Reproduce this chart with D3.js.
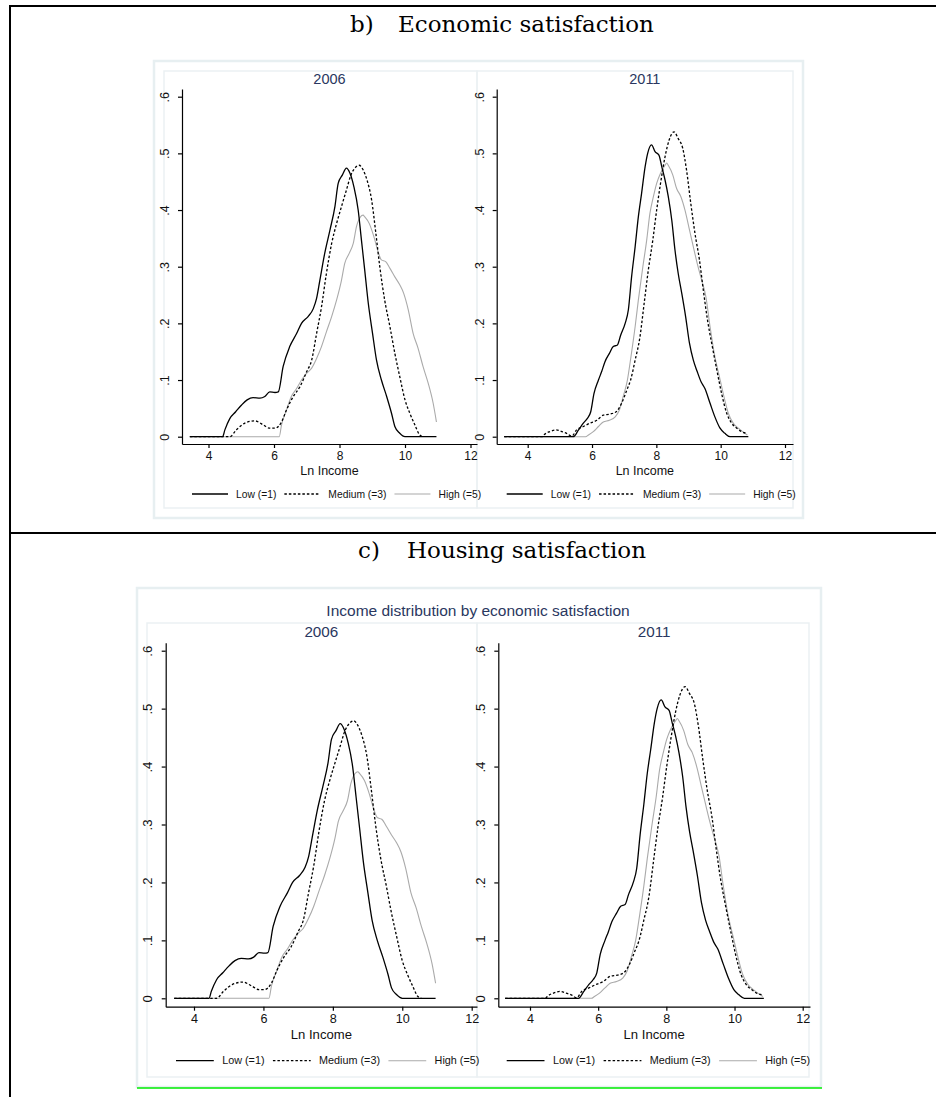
<!DOCTYPE html>
<html>
<head>
<meta charset="utf-8">
<script src="https://cdn.jsdelivr.net/npm/d3@7"></script>
<style>
  body { margin: 0; background: #fff; }
  svg { display: block; }
  text { font-family: "Liberation Sans", Arial, sans-serif; }
</style>
</head>
<body>
<div id="chart"></div>
<script>
// Kernel density of Ln Income by economic satisfaction
// each point is [ln income, density]
const low2006 = [[3.43,0],[4.43,0],[4.5,0.012],[4.65,0.032],[4.83,0.044],[5.01,0.056],[5.18,0.065],[5.36,0.069],
  [5.57,0.068],[5.72,0.071],[5.87,0.079],[6.03,0.078],[6.13,0.079],[6.28,0.124],[6.48,0.159],[6.69,0.182],
  [6.84,0.2],[7.04,0.212],[7.2,0.226],[7.3,0.244],[7.4,0.276],[7.55,0.324],[7.71,0.365],[7.86,0.406],
  [7.96,0.447],[8.09,0.462],[8.21,0.474],[8.32,0.465],[8.44,0.441],[8.57,0.4],[8.67,0.347],[8.77,0.294],
  [8.88,0.235],[9.01,0.182],[9.13,0.135],[9.28,0.1],[9.44,0.071],[9.59,0.041],[9.69,0.018],[9.84,0.006],
  [10.0,0],[10.96,0]];
const medium2006 = [[3.43,0],[4.65,0],[4.85,0.012],[5.11,0.024],[5.41,0.028],[5.67,0.021],[5.87,0.015],
  [6.03,0.015],[6.23,0.026],[6.38,0.047],[6.59,0.071],[6.79,0.088],[7.0,0.115],[7.15,0.135],[7.3,0.182],
  [7.45,0.229],[7.6,0.288],[7.76,0.341],[7.91,0.376],[8.06,0.406],[8.21,0.435],[8.35,0.462],[8.47,0.474],
  [8.6,0.479],[8.72,0.471],[8.84,0.453],[8.98,0.418],[9.11,0.359],[9.23,0.3],[9.38,0.241],[9.54,0.194],
  [9.69,0.147],[9.84,0.106],[10.0,0.065],[10.15,0.041],[10.3,0.021],[10.45,0.003],[10.55,0]];
const high2006 = [[3.43,0],[6.16,0],[6.23,0.021],[6.38,0.047],[6.53,0.071],[6.69,0.085],[6.84,0.1],[7.0,0.112],
  [7.15,0.121],[7.3,0.138],[7.45,0.159],[7.6,0.185],[7.76,0.212],[7.91,0.241],[8.06,0.276],[8.16,0.306],
  [8.3,0.324],[8.42,0.341],[8.52,0.371],[8.64,0.388],[8.72,0.391],[8.77,0.388],[8.91,0.376],[9.05,0.353],
  [9.18,0.326],[9.28,0.312],[9.41,0.309],[9.54,0.297],[9.69,0.282],[9.84,0.268],[9.96,0.253],[10.1,0.224],
  [10.25,0.182],[10.4,0.156],[10.55,0.124],[10.71,0.094],[10.86,0.059],[10.96,0.026]];

const low2011 = [[3.27,0],[5.42,0],[5.58,0.012],[5.73,0.024],[5.85,0.032],[5.96,0.044],[6.06,0.076],[6.2,0.1],
  [6.3,0.115],[6.4,0.132],[6.54,0.147],[6.66,0.159],[6.79,0.162],[6.89,0.179],[7.03,0.2],[7.13,0.224],
  [7.23,0.282],[7.34,0.335],[7.44,0.388],[7.54,0.429],[7.65,0.476],[7.73,0.5],[7.85,0.515],[7.96,0.503],
  [8.08,0.497],[8.17,0.476],[8.27,0.453],[8.37,0.424],[8.48,0.382],[8.58,0.329],[8.68,0.288],[8.79,0.253],
  [8.91,0.212],[9.03,0.165],[9.15,0.135],[9.27,0.115],[9.39,0.097],[9.51,0.085],[9.67,0.059],[9.82,0.035],
  [9.98,0.015],[10.13,0.006],[10.29,0],[10.86,0]];
const medium2011 = [[3.27,0],[4.45,0],[4.52,0.004],[4.69,0.009],[4.88,0.012],[5.06,0.009],[5.21,0.006],
  [5.37,0.001],[5.52,0.012],[5.73,0.018],[5.94,0.024],[6.15,0.029],[6.35,0.038],[6.56,0.04],[6.75,0.044],
  [6.92,0.059],[7.08,0.082],[7.2,0.1],[7.34,0.135],[7.49,0.176],[7.62,0.235],[7.75,0.294],[7.89,0.347],
  [8.01,0.4],[8.13,0.447],[8.27,0.494],[8.4,0.524],[8.55,0.538],[8.68,0.526],[8.82,0.509],[8.94,0.47],
  [9.07,0.412],[9.2,0.359],[9.34,0.312],[9.46,0.259],[9.59,0.206],[9.72,0.165],[9.88,0.118],[10.03,0.076],
  [10.19,0.041],[10.34,0.024],[10.5,0.015],[10.65,0.009],[10.81,0.006]];
const high2011 = [[3.27,0],[5.8,0],[5.89,0.003],[6.04,0.009],[6.2,0.018],[6.35,0.026],[6.54,0.029],[6.72,0.035],
  [6.85,0.047],[6.97,0.071],[7.1,0.1],[7.21,0.141],[7.34,0.194],[7.44,0.241],[7.58,0.3],[7.7,0.347],
  [7.8,0.394],[7.91,0.424],[8.01,0.447],[8.13,0.465],[8.27,0.479],[8.32,0.483],[8.37,0.479],[8.51,0.462],
  [8.63,0.438],[8.76,0.424],[8.89,0.4],[9.03,0.365],[9.15,0.335],[9.27,0.306],[9.41,0.276],[9.54,0.247],
  [9.67,0.194],[9.8,0.147],[9.96,0.106],[10.1,0.071],[10.24,0.041],[10.39,0.024],[10.55,0.015],
  [10.68,0.009],[10.83,0.003]];

const years = ["2006", "2011"];
const seriesNames = ["Low (=1)", "Medium (=3)", "High (=5)"];
const xTicks = [4, 6, 8, 10, 12];
const yTicks = [0, 0.1, 0.2, 0.3, 0.4, 0.5, 0.6];
const byYear = {"2006": [low2006, medium2006, high2006], "2011": [low2011, medium2011, high2011]};

// line styles for Low / Medium / High
const styles = [
  {stroke: "#000", width: 1.3, dash: null},
  {stroke: "#000", width: 1.3, dash: "2.5,2"},
  {stroke: "#aaaaaa", width: 1.1, dash: null}
];

const W = 936, H = 1097;
const svg = d3.select("#chart").append("svg")
  .attr("width", W).attr("height", H);

// document table lines
svg.append("rect").attr("x", 9).attr("y", 5).attr("width", W).attr("height", 2).attr("fill", "#000");
svg.append("rect").attr("x", 9).attr("y", 5).attr("width", 2).attr("height", H).attr("fill", "#000");
svg.append("rect").attr("x", 9).attr("y", 532).attr("width", W).attr("height", 2).attr("fill", "#000");

function heading(label, name, x1, x2, y) {
  svg.append("text").attr("x", x1).attr("y", y)
    .style("font-family", "'DejaVu Serif', 'Liberation Serif', serif")
    .style("font-size", "23px").attr("fill", "#000").text(label);
  svg.append("text").attr("x", x2).attr("y", y)
    .style("font-family", "'DejaVu Serif', 'Liberation Serif', serif")
    .style("font-size", "23px").attr("fill", "#000").text(name);
}
heading("b)", "Economic satisfaction", 350, 398, 32);
heading("c)", "Housing satisfaction", 358, 407, 558);

// light stata frames
function frame(x, y, w, h, c, sw) {
  svg.append("rect").attr("x", x).attr("y", y).attr("width", w).attr("height", h)
    .attr("fill", "none").attr("stroke", c).attr("stroke-width", sw);
}
frame(154, 61, 649, 457, "#e7eff1", 2.5);
frame(164, 71, 313, 437, "#ebf1f3", 1.5);
frame(477, 71, 316, 437, "#ebf1f3", 1.5);
frame(137, 588, 684, 499, "#e7eff1", 2.5);
frame(147, 623, 330, 454, "#ebf1f3", 1.5);
frame(477, 623, 332, 454, "#ebf1f3", 1.5);

svg.append("text").attr("x", 478).attr("y", 616).attr("text-anchor", "middle")
  .style("font-size", "15.5px").attr("fill", "#2a3760")
  .text("Income distribution by economic satisfaction");

svg.append("line").attr("x1", 137).attr("x2", 822).attr("y1", 1088).attr("y2", 1088)
  .attr("stroke", "#00ee00").attr("stroke-width", 1.3);

function drawPanel(p, year) {
  const g = svg.append("g");
  const fs = p.fs;
  // base scales from tick positions, then stretched to the axis lines
  const bx = d3.scaleLinear().domain([4, 12]).range([p.px4, p.px12]);
  const by = d3.scaleLinear().domain([0, 0.6]).range([p.py0, p.py6]);
  const x = d3.scaleLinear().domain([bx.invert(p.axisX), bx.invert(p.axisRight)]).range([p.axisX, p.axisRight]);
  const y = d3.scaleLinear().domain([by.invert(p.axisY), by.invert(p.axisTop)]).range([p.axisY, p.axisTop]);

  const xa = g.append("g").attr("transform", `translate(0,${p.axisY})`)
    .call(d3.axisBottom(x).tickValues(xTicks).tickSize(4).tickSizeOuter(0).tickPadding(3));
  xa.selectAll("text").style("font-size", (12 * fs) + "px").attr("fill", "#111");

  const ya = g.append("g").attr("transform", `translate(${p.axisX},0)`)
    .call(d3.axisLeft(y).tickValues(yTicks).tickSize(4).tickSizeOuter(0)
      .tickFormat(d => d === 0 ? "0" : d3.format(".1f")(d).replace("0.", ".")));
  ya.selectAll("text")
    .attr("x", null).attr("dy", "0.35em")
    .attr("text-anchor", "middle")
    .attr("transform", `translate(${-17 * fs},0) rotate(-90)`)
    .style("font-size", (12.5 * fs) + "px").attr("fill", "#111");
  g.selectAll(".domain, .tick line").attr("stroke", "#000").attr("stroke-width", 1.2);

  const line = d3.line().x(d => x(d[0])).y(d => y(d[1])).curve(d3.curveMonotoneX);
  // draw High first so black lines sit on top
  [2, 1, 0].forEach(i => {
    g.append("path").datum(byYear[year][i])
      .attr("d", line)
      .attr("fill", "none")
      .attr("stroke", styles[i].stroke)
      .attr("stroke-width", styles[i].width)
      .attr("stroke-dasharray", styles[i].dash);
  });

  const cx = (p.axisX + p.axisRight) / 2;
  g.append("text").attr("x", cx).attr("y", p.titleY).attr("text-anchor", "middle")
    .style("font-size", (14.5 * fs) + "px").attr("fill", "#2a3760").text(year);
  g.append("text").attr("x", cx).attr("y", p.lnY).attr("text-anchor", "middle")
    .style("font-size", (12.5 * fs) + "px").attr("fill", "#111").text("Ln Income");

  // legend
  let lx = p.legendX;
  const segLen = 36 * fs;
  seriesNames.forEach((name, i) => {
    g.append("line").attr("x1", lx).attr("x2", lx + segLen)
      .attr("y1", p.legendY).attr("y2", p.legendY)
      .attr("stroke", styles[i].stroke).attr("stroke-width", styles[i].width)
      .attr("stroke-dasharray", styles[i].dash);
    lx += segLen + 8 * fs;
    const t = g.append("text").attr("x", lx).attr("y", p.legendY).attr("dy", "0.35em")
      .style("font-size", (10.3 * fs) + "px").attr("fill", "#111").text(name);
    lx += t.node().getComputedTextLength() + 8 * fs;
  });
}

const panels = [
  {year: "2006", px4: 208.5, px12: 470.5, axisX: 182, axisRight: 477, py0: 436.7, py6: 96.7, axisTop: 89,
   axisY: 444, titleY: 84, lnY: 474.5, legendX: 192, legendY: 494, fs: 1},
  {year: "2011", px4: 527.7, px12: 785, axisX: 496.7, axisRight: 793, py0: 436.7, py6: 96.7, axisTop: 89,
   axisY: 444, titleY: 84, lnY: 474.5, legendX: 506.7, legendY: 494, fs: 1},
  {year: "2006", px4: 194, px12: 471.7, axisX: 165.7, axisRight: 477, py0: 998.3, py6: 650.7, axisTop: 642.7,
   axisY: 1006.7, titleY: 637, lnY: 1038.5, legendX: 176, legendY: 1060.7, fs: 1.05},
  {year: "2011", px4: 530, px12: 802.7, axisX: 498.3, axisRight: 810, py0: 998.3, py6: 650.7, axisTop: 642.7,
   axisY: 1006.7, titleY: 637, lnY: 1038.5, legendX: 506.7, legendY: 1060.7, fs: 1.05}
];
panels.forEach(p => drawPanel(p, p.year));
</script>
</body>
</html>
